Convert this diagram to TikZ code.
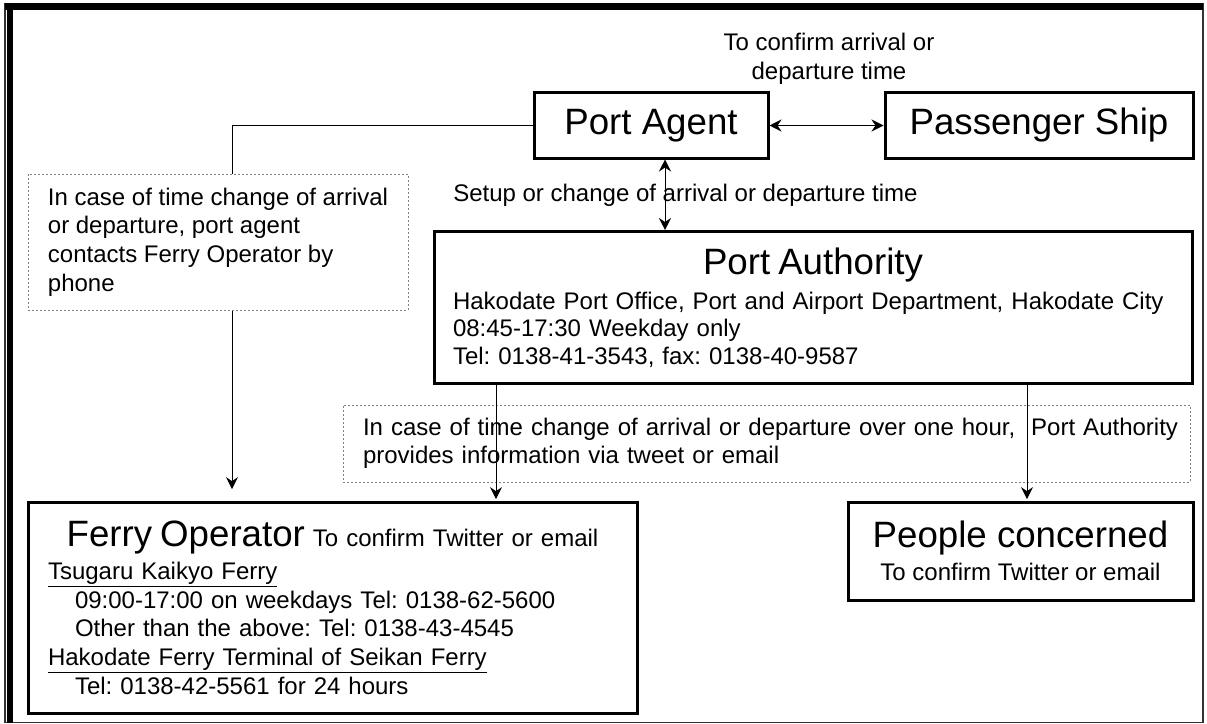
\documentclass[tikz,border=0pt]{standalone}
\usepackage{fontspec}
\setmainfont{Liberation Sans}
\usetikzlibrary{arrows.meta}
\frenchspacing

\newcommand{\bigfont}{\fontsize{27.5}{31}\selectfont}
\newcommand{\smallfont}{\fontsize{18}{21.5}\selectfont}

\tikzset{
  box/.style={draw, line width=2.25pt, inner sep=0pt},
  note/.style={draw=gray, line width=0.75pt, dash pattern=on 1.5pt off 1.5pt, inner sep=0pt},
  conn/.style={line width=0.75pt},
}

\begin{document}
\begin{tikzpicture}[x=0.75pt, y=-0.75pt, font=\smallfont,
    >={Stealth[length=9pt,width=9pt,inset=3pt]}]
        \useasboundingbox (0,0) rectangle (1207,724);

        % Frame
        \draw[line width=1.1pt, black!80] (5,3.5) rectangle (1203,722.5);
        \draw[line width=5.25pt] (5,6.5) -- (1203,6.5);
        \draw[line width=4.5pt] (10,3.5) -- (10,722.5);

        % Define the boxes
        \node[box, font=\bigfont, minimum width=175.5pt, minimum height=48.75pt] (agent) at (651,125.5) {Port Agent};
        \node[box, font=\bigfont, minimum width=231pt, minimum height=48.75pt] (ship) at (1039,125.5) {Passenger Ship};

        \node[box, minimum width=568.5pt, minimum height=114pt, text width=540pt, align=left,
              font={\fontsize{18}{20.5}\selectfont}] (auth) at (813,307.5)
             {\makebox[\hsize]{\bigfont Port Authority}\\[5.75pt]
              Hakodate Port Office, Port and Airport Department, Hakodate City\\
              08:45-17:30 Weekday only\\
              Tel: 0138-41-3543, fax: 0138-40-9587};

        \node[box, minimum width=456.75pt, minimum height=158.25pt, text width=426.75pt, align=left] (ferry) at (332.5,607.5)
             {\makebox[\hsize]{{\bigfont Ferry Operator} To confirm Twitter or email}\\[3.25pt]
              \underline{Tsugaru Kaikyo Ferry}\\
              \hspace*{20.25pt}09:00-17:00 on weekdays Tel: 0138-62-5600\\
              \hspace*{20.25pt}Other than the above: Tel: 0138-43-4545\\
              \underline{Hakodate Ferry Terminal of Seikan Ferry}\\
              \hspace*{20.25pt}Tel: 0138-42-5561 for 24 hours};

        \node[box, minimum width=258.75pt, minimum height=73.5pt, align=center] (people) at (1020.5,551)
             {{\bigfont People concerned}\\[3.25pt] To confirm Twitter or email};

        % Notes
        \node[note, minimum width=285pt, minimum height=102pt, align=left] (agentnote) at (218,242)
             {In case of time change of arrival\\ or departure, port agent\\ contacts Ferry Operator by\\ phone};
        \node[note, minimum width=635.25pt, minimum height=57.75pt, text width=605.25pt, align=left,
              font={\fontsize{18}{21}\selectfont}] (authnote) at (766.5,443.5)
             {\mbox{In case of time change of arrival or departure over one hour,\ \ Port Authority}\\
              \mbox{provides information via tweet or email}};

        % Labels
        \node[align=center, font={\fontsize{18}{21.75}\selectfont}] (confirm) at (829,59)
             {To confirm arrival or\\ departure time};
        \node[anchor=west, inner sep=0pt] (setuplabel) at (453,195)
             {Setup or change of arrival or departure time};

        % Draw arrows
        \coordinate (bend) at (232,125.5);
        \coordinate (setup) at (665,0);
        \coordinate (toferry) at (496,0);
        \coordinate (topeople) at (1027,0);

        \draw[conn, <->] (agent.east) -- (ship.west);
        \draw[conn, <->] (agent.south -| setup) -- (auth.north -| setup);
        \draw[conn] (agent.west) -- (bend) -- (bend |- agentnote.north);
        \draw[conn, ->, shorten >=8.5pt] (bend |- agentnote.south) -- (bend |- ferry.north);
        \draw[conn, ->, shorten >=1pt] (auth.south -| toferry) -- (ferry.north -| toferry);
        \draw[conn, ->, shorten >=1pt] (auth.south -| topeople) -- (people.north -| topeople);
    \end{tikzpicture}
\end{document}
